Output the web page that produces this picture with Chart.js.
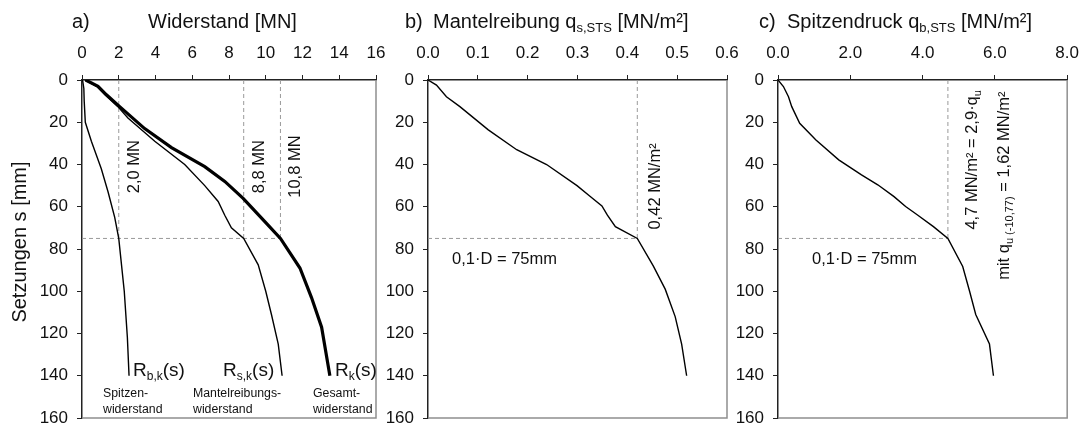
<!DOCTYPE html>
<html>
<head>
<meta charset="utf-8">
<script src="https://cdn.jsdelivr.net/npm/chart.js@4.4.1/dist/chart.umd.min.js"></script>
<style>
  html, body { margin: 0; padding: 0; background: #fff; overflow: hidden; }
  #wrap { position: relative; width: 1090px; height: 426px; }
  #wrap canvas { position: absolute; left: 0; top: 0; }
</style>
</head>
<body>
<div id="wrap">
  <canvas id="chartA" width="1090" height="440"></canvas>
  <canvas id="chartB" width="1090" height="440"></canvas>
  <canvas id="chartC" width="1090" height="440"></canvas>
</div>
<script>
// a) Widerstand-Setzungs-Linien [MN] über Setzung s [mm]
const settleRk = [0, 3, 7, 12.6, 23, 32, 41, 48, 56, 67, 75, 89, 103, 117, 140];
const resistRk = [0.2, 0.87, 1.33, 2.05, 3.41, 4.87, 6.68, 7.77, 8.77, 9.95, 10.8, 11.86, 12.49, 13.04, 13.49];

const settleRsk = [0, 3, 7, 12.6, 18, 29, 40, 50, 57.5, 64, 70, 75, 87.5, 100, 111, 125, 140];
const resistRsk = [0.15, 0.8, 1.25, 1.95, 2.5, 3.96, 5.59, 6.68, 7.41, 7.77, 8.13, 8.8, 9.59, 10.0, 10.31, 10.68, 10.89];

const settleRbk = [0, 4, 10, 20, 29, 42, 53, 65, 75, 100, 122, 140];
const resistRbk = [0.03, 0.1, 0.12, 0.18, 0.51, 1.05, 1.42, 1.78, 2.0, 2.3, 2.47, 2.56];

// b) Mantelreibung q_s [MN/m²]
const settleQs = [0, 2.4, 7.9, 12.6, 23.6, 33, 40, 50, 55, 59.6, 64, 69.4, 75, 88, 99, 112, 125, 140];
const mantelQs = [0, 0.017, 0.037, 0.064, 0.121, 0.178, 0.238, 0.299, 0.325, 0.349, 0.36, 0.376, 0.42, 0.452, 0.476, 0.496, 0.509, 0.519];

// c) Spitzendruck q_b [MN/m²]
const settleQb = [0, 3.1, 7.9, 12.6, 20.5, 28.4, 37.8, 44.9, 49.6, 55.2, 59.9, 63.8, 69.4, 75, 88.3, 100, 111, 125, 140];
const spitzeQb = [0, 0.15, 0.29, 0.38, 0.6, 1.05, 1.68, 2.31, 2.76, 3.21, 3.53, 3.85, 4.3, 4.7, 5.11, 5.3, 5.47, 5.85, 5.96];

// Ablesewerte bei s = 0,1·D
const sRef = 75;
const markA = [2.0, 8.8, 10.8];
const markB = 0.42;
const markC = 4.7;

// Achsteilungen
const ticksS = [0, 20, 40, 60, 80, 100, 120, 140, 160];
const ticksA = [0, 2, 4, 6, 8, 10, 12, 14, 16];
const ticksB = [0, 0.1, 0.2, 0.3, 0.4, 0.5, 0.6];
const ticksC = [0, 2, 4, 6, 8];

const FONT = '"Liberation Sans", Arial, sans-serif';
const DASH = '#9a9a9a';

function pts(xs, ys) {
  return xs.map((x, i) => ({ x: x, y: ys[i] }));
}

function curve(xs, ys, width) {
  return { data: pts(xs, ys), borderColor: '#000', borderWidth: width };
}

function dashed(data) {
  return { data: data, borderColor: DASH, borderWidth: 1, borderDash: [4, 3] };
}

// Text mit Indizes: parts = [[text, size, dy], ...]
function rich(ctx, x, y, parts) {
  let cx = x;
  parts.forEach(p => {
    ctx.font = p[1] + 'px ' + FONT;
    ctx.fillText(p[0], cx, y + (p[2] || 0));
    cx += ctx.measureText(p[0]).width;
  });
  return cx;
}

function richWidth(ctx, parts) {
  let w = 0;
  parts.forEach(p => {
    ctx.font = p[1] + 'px ' + FONT;
    w += ctx.measureText(p[0]).width;
  });
  return w;
}

// senkrecht (von unten nach oben) um die Mitte cy geschrieben
function richUp(ctx, baseX, cy, parts) {
  ctx.save();
  ctx.translate(baseX, cy);
  ctx.rotate(-Math.PI / 2);
  rich(ctx, -richWidth(ctx, parts) / 2, 0, parts);
  ctx.restore();
}

const framePlugin = {
  id: 'frame',
  afterDatasetsDraw(chart) {
    const { ctx, chartArea: a } = chart;
    ctx.save();
    ctx.strokeStyle = '#8f8f8f';
    ctx.lineWidth = 1.5;
    ctx.beginPath();
    ctx.moveTo(a.left, a.bottom);
    ctx.lineTo(a.right, a.bottom);
    ctx.lineTo(a.right, a.top);
    ctx.stroke();
    ctx.restore();
  }
};

function makePanel(id, left, right, xTicks, fmt, datasets, drawText) {
  return new Chart(document.getElementById(id), {
    type: 'scatter',
    data: { datasets: datasets },
    options: {
      responsive: false,
      animation: false,
      events: [],
      layout: { padding: { left: left - 82, right: 1090 - right, top: 0, bottom: 22 } },
      elements: { point: { radius: 0 }, line: { tension: 0, fill: false } },
      datasets: { scatter: { showLine: true } },
      plugins: { legend: { display: false }, tooltip: { enabled: false } },
      scales: {
        x: {
          type: 'linear',
          position: 'top',
          min: xTicks[0],
          max: xTicks[xTicks.length - 1],
          afterBuildTicks: s => { s.ticks = xTicks.map(v => ({ value: v })); },
          afterFit: s => { s.height = 80; },
          border: { color: '#222', width: 1.5 },
          grid: { drawOnChartArea: false, color: '#222', tickLength: 5 },
          ticks: { color: '#111', padding: 11, font: { family: FONT, size: 17 }, callback: fmt }
        },
        y: {
          type: 'linear',
          reverse: true,
          min: 0,
          max: 160,
          afterBuildTicks: s => { s.ticks = ticksS.map(v => ({ value: v })); },
          afterFit: s => { s.width = 82; },
          border: { color: '#222', width: 1.5 },
          grid: { drawOnChartArea: false, color: '#222', tickLength: 5 },
          ticks: { color: '#111', padding: 9, font: { family: FONT, size: 17 } }
        }
      }
    },
    plugins: [framePlugin, {
      id: 'texts',
      afterDraw(chart) {
        const ctx = chart.ctx;
        ctx.save();
        ctx.fillStyle = '#111';
        ctx.textAlign = 'left';
        ctx.textBaseline = 'alphabetic';
        drawText(ctx, chart.scales.x, chart.scales.y, chart.chartArea);
        ctx.restore();
      }
    }]
  });
}

// a) Widerstand
makePanel('chartA', 82, 376, ticksA, v => String(v), [
  curve(resistRk, settleRk, 3.2),
  curve(resistRsk, settleRsk, 1.4),
  curve(resistRbk, settleRbk, 1.4),
  dashed([{ x: 0, y: sRef }, { x: markA[2], y: sRef }]),
  ...markA.map(m => dashed([{ x: m, y: 0 }, { x: m, y: sRef }]))
], (ctx, x, y, a) => {
  rich(ctx, 72, 28, [['a)', 20]]);
  rich(ctx, 148, 28, [['Widerstand [MN]', 20]]);
  richUp(ctx, 26, (a.top + a.bottom) / 2 - 7, [['Setzungen s [mm]', 20]]);
  const labels = ['2,0 MN', '8,8 MN', '10,8 MN'];
  markA.forEach((m, i) => richUp(ctx, x.getPixelForValue(m) + 20, y.getPixelForValue(41), [[labels[i], 16.5]]));
  const base = y.getPixelForValue(140);
  rich(ctx, 133, base, [['R', 19], ['b,k', 12, 4], ['(s)', 19]]);
  rich(ctx, 223, base, [['R', 19], ['s,k', 12, 4], ['(s)', 19]]);
  rich(ctx, 335, base, [['R', 19], ['k', 12, 4], ['(s)', 19]]);
  ctx.font = '12.3px ' + FONT;
  ctx.fillText('Spitzen-', 103, 397);
  ctx.fillText('widerstand', 103, 413);
  ctx.fillText('Mantelreibungs-', 193, 397);
  ctx.fillText('widerstand', 193, 413);
  ctx.fillText('Gesamt-', 313, 397);
  ctx.fillText('widerstand', 313, 413);
});

// b) Mantelreibung
makePanel('chartB', 428, 727, ticksB, v => v.toFixed(1), [
  curve(mantelQs, settleQs, 1.4),
  dashed([{ x: 0, y: sRef }, { x: markB, y: sRef }]),
  dashed([{ x: markB, y: 0 }, { x: markB, y: sRef }])
], (ctx, x, y, a) => {
  rich(ctx, 405, 28, [['b)', 20]]);
  rich(ctx, 433, 28, [['Mantelreibung q', 20], ['s,STS', 13, 4], [' [MN/m²]', 20]]);
  richUp(ctx, x.getPixelForValue(markB) + 23, y.getPixelForValue(50.4), [['0,42 MN/m²', 16.5]]);
  rich(ctx, a.left + 24, 264, [['0,1·D = 75mm', 16.5]]);
});

// c) Spitzendruck
makePanel('chartC', 778, 1074, ticksC, v => v.toFixed(1), [
  curve(spitzeQb, settleQb, 1.4),
  dashed([{ x: 0, y: sRef }, { x: markC, y: sRef }]),
  dashed([{ x: markC, y: 0 }, { x: markC, y: sRef }])
], (ctx, x, y, a) => {
  rich(ctx, 759, 28, [['c)', 20]]);
  rich(ctx, 787, 28, [['Spitzendruck q', 20], ['b,STS', 13, 4], [' [MN/m²]', 20]]);
  const lx = x.getPixelForValue(markC);
  richUp(ctx, lx + 29, y.getPixelForValue(37.8), [['4,7 MN/m² = 2,9·q', 16.5], ['u', 11, 4]]);
  richUp(ctx, lx + 61, y.getPixelForValue(50), [['mit q', 16.5], ['u (-10,77)', 11, 4], [' = 1,62 MN/m²', 16.5]]);
  rich(ctx, a.left + 34, 264, [['0,1·D = 75mm', 16.5]]);
});
</script>
</body>
</html>
